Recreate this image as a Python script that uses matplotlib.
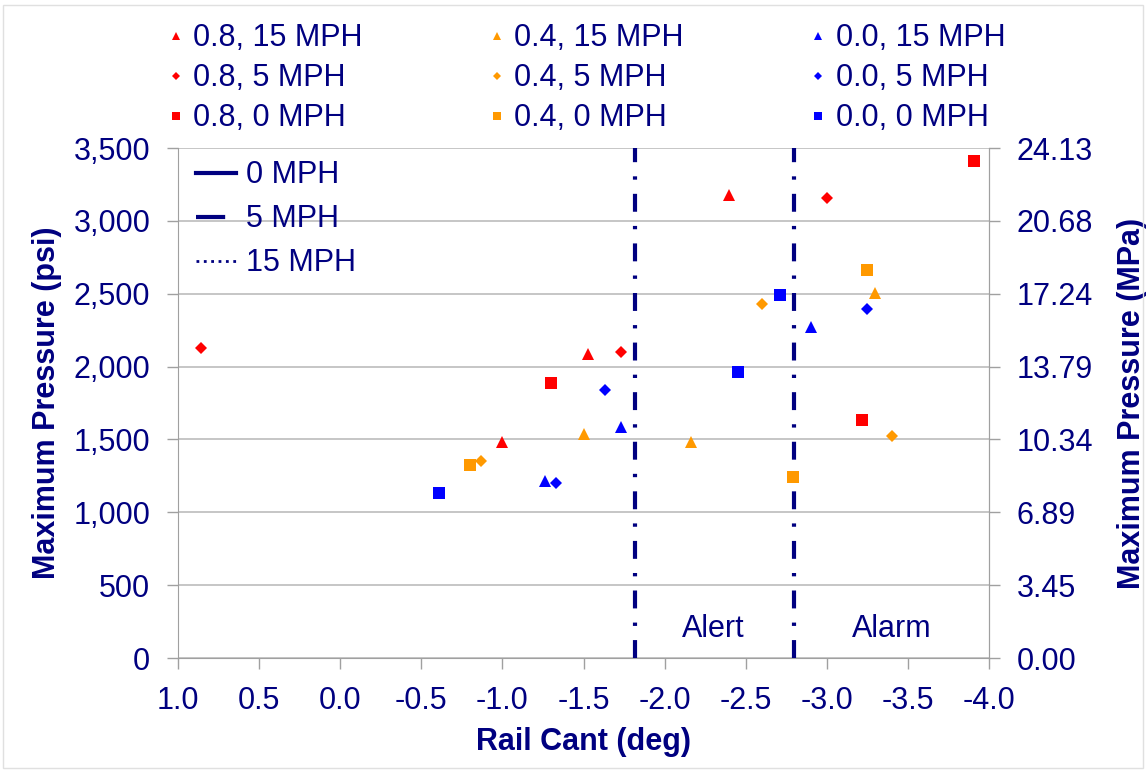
import matplotlib
matplotlib.use("Agg")
import matplotlib.pyplot as plt
from matplotlib.lines import Line2D
from matplotlib.ticker import FuncFormatter

plt.rcParams['font.family'] = ['Liberation Sans', 'DejaVu Sans']
navy = '#000080'
fs = 22

# rail cant (deg) and max pressure (psi) per series
cant_08_15 = [-1.00, -1.53, -2.40]
psi_08_15 = [1480, 2086, 3177]
cant_08_5 = [0.86, -1.73, -3.00]
psi_08_5 = [2125, 2100, 3156]
cant_08_0 = [-1.30, -3.22, -3.91]
psi_08_0 = [1886, 1635, 3413]

cant_04_15 = [-1.50, -2.16, -3.30]
psi_04_15 = [1538, 1479, 2505]
cant_04_5 = [-0.87, -2.60, -3.40]
psi_04_5 = [1354, 2429, 1521]
cant_04_0 = [-0.80, -2.79, -3.25]
psi_04_0 = [1324, 1245, 2663]

cant_00_15 = [-1.26, -1.73, -2.90]
psi_00_15 = [1216, 1584, 2275]
cant_00_5 = [-1.33, -1.63, -3.25]
psi_00_5 = [1200, 1842, 2397]
cant_00_0 = [-0.61, -2.45, -2.71]
psi_00_0 = [1132, 1960, 2491]

alert_x = -1.82
alarm_x = -2.80
psi_to_mpa = 0.0068948

red, orange, blue = '#FF0000', '#FF9900', '#0000FF'

fig = plt.figure(figsize=(11.46, 7.70), dpi=100)
ax = fig.add_axes([178/1146, 1-658/770, (989-178)/1146, (658-148)/770])

series = [
    (cant_08_15, psi_08_15, red, '^', 9, '0.8, 15 MPH'),
    (cant_08_5, psi_08_5, red, 'D', 6.2, '0.8, 5 MPH'),
    (cant_08_0, psi_08_0, red, 's', 8.5, '0.8, 0 MPH'),
    (cant_04_15, psi_04_15, orange, '^', 9, '0.4, 15 MPH'),
    (cant_04_5, psi_04_5, orange, 'D', 6.2, '0.4, 5 MPH'),
    (cant_04_0, psi_04_0, orange, 's', 8.5, '0.4, 0 MPH'),
    (cant_00_15, psi_00_15, blue, '^', 9, '0.0, 15 MPH'),
    (cant_00_5, psi_00_5, blue, 'D', 6.2, '0.0, 5 MPH'),
    (cant_00_0, psi_00_0, blue, 's', 8.5, '0.0, 0 MPH'),
]
handles = []
for xs, ys, c, m, ms, lab in series:
    h, = ax.plot(xs, ys, linestyle='none', marker=m, ms=ms, color=c,
                 markeredgewidth=0, label=lab, zorder=4)
    handles.append(h)

ax.axvline(alert_x, color=navy, lw=3, dashes=(4.3, 3.4, 0.8, 3.4), zorder=3)
ax.axvline(alarm_x, color=navy, lw=3, dashes=(4.3, 3.4, 0.8, 3.4), zorder=3)
ax.text(-2.30, 200, 'Alert', color=navy, fontsize=fs, ha='center', va='center')
ax.text(-3.40, 200, 'Alarm', color=navy, fontsize=fs, ha='center', va='center')

ax.set_xlim(1.0, -4.0)
ax.set_ylim(0, 3500)
ax.set_xticks([1.0 - 0.5*i for i in range(11)])
ax.set_yticks(range(0, 3501, 500))
ax.xaxis.set_major_formatter(FuncFormatter(lambda v, p: f'{v:.1f}'))
ax.yaxis.set_major_formatter(FuncFormatter(lambda v, p: f'{int(v):,}'))
ax.grid(axis='y', color='#bcbcbc', lw=1.2)
ax.set_axisbelow(True)
ax.spines['top'].set_visible(False)
for s in ['left', 'right', 'bottom']:
    ax.spines[s].set_color('#a0a0a0')
ax.tick_params(colors='#a0a0a0', labelcolor=navy, labelsize=fs, length=8, width=1)
ax.tick_params(axis='y', pad=12)
ax.tick_params(axis='x', pad=12)
ax.set_xlabel('Rail Cant (deg)', fontsize=fs, fontweight='bold', color=navy, labelpad=8)
ax.set_ylabel('Maximum Pressure (psi)', fontsize=fs, fontweight='bold', color=navy, labelpad=8)

ax2 = ax.twinx()
ax2.set_ylim(0, 3500*psi_to_mpa)
ax2.set_yticks([v*psi_to_mpa for v in range(0, 3501, 500)])
ax2.yaxis.set_major_formatter(FuncFormatter(lambda v, p: f'{v:.2f}'))
ax2.tick_params(colors='#a0a0a0', labelcolor=navy, labelsize=fs, length=8, width=1, pad=12)
for s in ['top', 'left', 'bottom']:
    ax2.spines[s].set_visible(False)
ax2.spines['right'].set_color('#a0a0a0')
ax2.set_ylabel('Maximum Pressure (MPa)', fontsize=fs, fontweight='bold', color=navy, labelpad=17)

# speed line-style legend
style_handles = [
    Line2D([], [], color=navy, lw=3, linestyle='-'),
    Line2D([], [], color=navy, lw=3, dashes=(7.0, 10)),
    Line2D([], [], color=navy, lw=2, linestyle=':'),
]
ax.legend(style_handles, ['0 MPH', '5 MPH', '15 MPH'], loc='upper left',
          bbox_to_anchor=(0.0074, 1.0), borderaxespad=0, frameon=False, fontsize=fs,
          labelcolor=navy, handlelength=1.3, handletextpad=0.33, labelspacing=0.46)

fig.legend(handles=handles, loc='upper left', bbox_to_anchor=(158/1146, 1-11/770),
           borderaxespad=0, ncol=3, frameon=False, fontsize=fs, labelcolor=navy,
           markerscale=0.7, handlelength=0.4, handletextpad=0.36, columnspacing=4.2,
           labelspacing=0.33)

fig.patches.append(plt.Rectangle((0.003, 0.003), 0.994, 0.99, transform=fig.transFigure,
                                 fill=False, edgecolor='#e0e0e0', lw=1))

fig.savefig('out.png', dpi=100)
